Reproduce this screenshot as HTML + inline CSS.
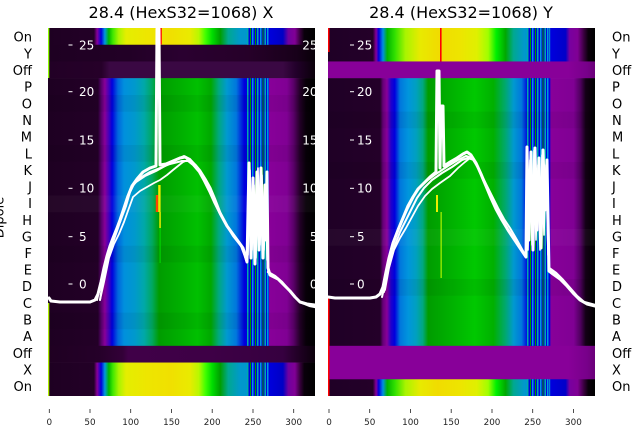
<!DOCTYPE html>
<html><head><meta charset="utf-8"><style>
html,body{margin:0;padding:0;background:#fff;}
svg{display:block;}
text{font-family:"DejaVu Sans","Liberation Sans",sans-serif;}
</style></head><body>
<svg width="640" height="440" viewBox="0 0 640 440" xmlns="http://www.w3.org/2000/svg">
<defs>
<linearGradient id="ML" gradientUnits="userSpaceOnUse" x1="0" y1="0" x2="267" y2="0">
<stop offset="0" stop-color="#1e0022"/><stop offset=".187" stop-color="#230027"/><stop offset=".199" stop-color="#55006a"/><stop offset=".213" stop-color="#880099"/><stop offset=".228" stop-color="#4400bb"/><stop offset=".240" stop-color="#0000dd"/><stop offset=".262" stop-color="#0066dd"/><stop offset=".285" stop-color="#0090dd"/><stop offset=".326" stop-color="#0099cc"/><stop offset=".360" stop-color="#00a8a8"/><stop offset=".390" stop-color="#00a860"/><stop offset=".416" stop-color="#009c00"/><stop offset=".50" stop-color="#00b000"/><stop offset=".56" stop-color="#00c000"/><stop offset=".61" stop-color="#00a800"/><stop offset=".64" stop-color="#00a880"/><stop offset=".67" stop-color="#0099d0"/><stop offset=".705" stop-color="#0077dd"/><stop offset=".735" stop-color="#0000dd"/><stop offset=".824" stop-color="#0000dd"/><stop offset=".828" stop-color="#880099"/><stop offset=".895" stop-color="#800094"/><stop offset=".92" stop-color="#5a0068"/><stop offset=".944" stop-color="#220026"/><stop offset=".966" stop-color="#080009"/><stop offset="1" stop-color="#000"/>
</linearGradient>
<linearGradient id="MR" gradientUnits="userSpaceOnUse" x1="0" y1="0" x2="267" y2="0">
<stop offset="0" stop-color="#1f0026"/><stop offset=".195" stop-color="#240029"/><stop offset=".206" stop-color="#660077"/><stop offset=".221" stop-color="#880099"/><stop offset=".236" stop-color="#2000cc"/><stop offset=".25" stop-color="#0000dd"/><stop offset=".27" stop-color="#0077dd"/><stop offset=".30" stop-color="#0095dd"/><stop offset=".33" stop-color="#00a0c0"/><stop offset=".355" stop-color="#00a880"/><stop offset=".375" stop-color="#009c00"/><stop offset=".49" stop-color="#00b800"/><stop offset=".55" stop-color="#00c800"/><stop offset=".62" stop-color="#00b000"/><stop offset=".665" stop-color="#00a870"/><stop offset=".695" stop-color="#0099d0"/><stop offset=".725" stop-color="#0077dd"/><stop offset=".748" stop-color="#0000dd"/><stop offset=".83" stop-color="#0000dd"/><stop offset=".835" stop-color="#880099"/><stop offset=".92" stop-color="#800094"/><stop offset=".945" stop-color="#500060"/><stop offset=".965" stop-color="#140016"/><stop offset="1" stop-color="#000"/>
</linearGradient>
<linearGradient id="OL" gradientUnits="userSpaceOnUse" x1="0" y1="0" x2="267" y2="0">
<stop offset="0" stop-color="#1e0022"/><stop offset=".172" stop-color="#230027"/><stop offset=".184" stop-color="#880099"/><stop offset=".199" stop-color="#0000dd"/><stop offset=".213" stop-color="#0099dd"/><stop offset=".228" stop-color="#00b800"/><stop offset=".243" stop-color="#40e800"/><stop offset=".265" stop-color="#a8f400"/><stop offset=".292" stop-color="#e4ee00"/><stop offset=".37" stop-color="#eee600"/><stop offset=".46" stop-color="#f0e000"/><stop offset=".53" stop-color="#eaea00"/><stop offset=".565" stop-color="#b8f800"/><stop offset=".59" stop-color="#40ff00"/><stop offset=".615" stop-color="#00dd00"/><stop offset=".645" stop-color="#009e00"/><stop offset=".675" stop-color="#00a890"/><stop offset=".72" stop-color="#0099cc"/><stop offset=".824" stop-color="#0090d0"/><stop offset=".828" stop-color="#0000dd"/><stop offset=".88" stop-color="#0000c4"/><stop offset=".9" stop-color="#7000a0"/><stop offset=".925" stop-color="#800094"/><stop offset=".945" stop-color="#340038"/><stop offset=".96" stop-color="#0a000b"/><stop offset="1" stop-color="#000"/>
</linearGradient>
<linearGradient id="OR" gradientUnits="userSpaceOnUse" x1="0" y1="0" x2="267" y2="0">
<stop offset="0" stop-color="#1f0026"/><stop offset=".168" stop-color="#240029"/><stop offset=".18" stop-color="#880099"/><stop offset=".19" stop-color="#0000dd"/><stop offset=".206" stop-color="#0090e0"/><stop offset=".222" stop-color="#00b400"/><stop offset=".25" stop-color="#30e000"/><stop offset=".29" stop-color="#a8f400"/><stop offset=".345" stop-color="#e8ea00"/><stop offset=".41" stop-color="#f0dc00"/><stop offset=".49" stop-color="#eee400"/><stop offset=".558" stop-color="#dff000"/><stop offset=".6" stop-color="#a0ff00"/><stop offset=".63" stop-color="#00f000"/><stop offset=".665" stop-color="#00a800"/><stop offset=".695" stop-color="#00a890"/><stop offset=".735" stop-color="#0099cc"/><stop offset=".83" stop-color="#0090d0"/><stop offset=".834" stop-color="#0000dd"/><stop offset=".89" stop-color="#0000c8"/><stop offset=".905" stop-color="#7800a0"/><stop offset=".935" stop-color="#800094"/><stop offset=".96" stop-color="#340038"/><stop offset=".975" stop-color="#0a000b"/><stop offset="1" stop-color="#000"/>
</linearGradient>
<linearGradient id="DY" gradientUnits="userSpaceOnUse" x1="0" y1="0" x2="267" y2="0">
<stop offset="0" stop-color="#1e0022"/><stop offset=".3" stop-color="#220026"/><stop offset=".5" stop-color="#2a0030"/><stop offset=".75" stop-color="#260029"/><stop offset=".93" stop-color="#18001a"/><stop offset="1" stop-color="#080008"/>
</linearGradient>
<linearGradient id="DO1" gradientUnits="userSpaceOnUse" x1="0" y1="0" x2="267" y2="0">
<stop offset="0" stop-color="#220026"/><stop offset=".2" stop-color="#260029"/><stop offset=".23" stop-color="#3a0843"/><stop offset=".88" stop-color="#3a0843"/><stop offset=".93" stop-color="#22002a"/><stop offset="1" stop-color="#0a000a"/>
</linearGradient>
<linearGradient id="DO2" gradientUnits="userSpaceOnUse" x1="0" y1="0" x2="267" y2="0">
<stop offset="0" stop-color="#1f0022"/><stop offset=".19" stop-color="#250029"/><stop offset=".28" stop-color="#330038"/><stop offset=".3" stop-color="#400048"/><stop offset=".6" stop-color="#3e0046"/><stop offset=".88" stop-color="#360040"/><stop offset=".94" stop-color="#200024"/><stop offset="1" stop-color="#0a000a"/>
</linearGradient>
<linearGradient id="PR" gradientUnits="userSpaceOnUse" x1="0" y1="0" x2="267" y2="0">
<stop offset="0" stop-color="#880099"/><stop offset=".9" stop-color="#880099"/><stop offset=".97" stop-color="#78008a"/><stop offset="1" stop-color="#6a0078"/>
</linearGradient>
<pattern id="ST" patternUnits="userSpaceOnUse" x="199" y="0" width="22" height="440">
<rect x="0" y="0" width="22" height="440" fill="#0000dd"/>
<rect x="0" y="0" width="1.5" height="440" fill="#00aaaa"/>
<rect x="3" y="0" width="1" height="440" fill="#009900"/>
<rect x="5" y="0" width="1.5" height="440" fill="#0099dd"/>
<rect x="8" y="0" width="1" height="440" fill="#009900"/>
<rect x="10" y="0" width="1.5" height="440" fill="#00aaaa"/>
<rect x="13" y="0" width="1.5" height="440" fill="#0099dd"/>
<rect x="15.5" y="0" width="1" height="440" fill="#009900"/>
<rect x="17.5" y="0" width="1.5" height="440" fill="#00aaaa"/>
<rect x="20" y="0" width="1.5" height="440" fill="#0099dd"/>
</pattern>
<clipPath id="cL"><rect x="48" y="28" width="267" height="368"/></clipPath>
<clipPath id="cR"><rect x="328" y="28" width="267" height="368"/></clipPath>
</defs>
<rect x="0" y="0" width="640" height="440" fill="#fff"/>

<text x="181" y="18" font-size="16" text-anchor="middle" fill="#000">28.4 (HexS32=1068) X</text>
<text x="461" y="18" font-size="16" text-anchor="middle" fill="#000">28.4 (HexS32=1068) Y</text>

<!-- LEFT PANEL -->
<g clip-path="url(#cL)">
<g transform="translate(48,0)">
<rect x="0" y="28" width="267" height="17" fill="url(#OL)"/>
<rect x="0" y="44.73" width="267" height="17" fill="url(#DY)"/>
<rect x="0" y="61.45" width="267" height="17" fill="url(#DO1)"/>
<rect x="0" y="78.18" width="267" height="268" fill="url(#ML)"/>
<rect x="0" y="345.82" width="267" height="17" fill="url(#DO2)"/>
<rect x="0" y="362.55" width="267" height="34" fill="url(#OL)"/>
<rect x="199" y="28" width="22" height="16.73" fill="url(#ST)"/>
<rect x="199" y="78.18" width="22" height="267.64" fill="url(#ST)"/>
<rect x="199" y="362.55" width="22" height="33.45" fill="url(#ST)"/>
<rect x="0" y="95" width="267" height="16.7" fill="#000" opacity="0.05"/>
<rect x="0" y="145" width="267" height="16.7" fill="#000" opacity="0.05"/>
<rect x="0" y="195.5" width="267" height="16.7" fill="#fff" opacity="0.03"/>
<rect x="0" y="245.7" width="267" height="16.7" fill="#000" opacity="0.05"/>
<rect x="0" y="312.6" width="267" height="16.7" fill="#000" opacity="0.05"/>
</g>
<rect x="48" y="28" width="1.3" height="50" fill="#90ff00"/>
<rect x="48" y="303" width="1.3" height="93" fill="#b0f000"/>
<rect x="160.3" y="28" width="1.5" height="16.5" fill="#ff0000"/>
<rect x="155.8" y="195" width="2.4" height="17" fill="#ff4400"/>
<rect x="158.2" y="185" width="2.4" height="27" fill="#eeee00"/>
<rect x="159.3" y="212" width="1.5" height="16" fill="#eeee00"/>
<rect x="159.6" y="228" width="1" height="35" fill="#00dd00"/>
<g fill="#fff" font-size="12">
<text x="79" y="49.5">25</text><text x="79" y="96">20</text><text x="79" y="144.5">15</text><text x="79" y="192.5">10</text><text x="79" y="241">5</text><text x="79" y="288.5">0</text>
<text x="317.5" y="49.5" text-anchor="end">25</text><text x="317.5" y="96" text-anchor="end">20</text><text x="317.5" y="144.5" text-anchor="end">15</text><text x="317.5" y="192.5" text-anchor="end">10</text><text x="317.5" y="241" text-anchor="end">5</text><text x="317.5" y="288.5" text-anchor="end">0</text>
</g>
<g stroke="#fff" stroke-width="1">
<line x1="68.5" y1="45" x2="72.5" y2="45"/><line x1="68.5" y1="91.7" x2="72.5" y2="91.7"/><line x1="68.5" y1="140" x2="72.5" y2="140"/><line x1="68.5" y1="188.3" x2="72.5" y2="188.3"/><line x1="68.5" y1="236.7" x2="72.5" y2="236.7"/><line x1="68.5" y1="284" x2="72.5" y2="284"/>
</g>
<g fill="none" stroke="#fff" stroke-linejoin="round" stroke-linecap="round">
<polyline stroke-width="3" points="49,298 51,301 60,302 90,302 95,300 98,294 101,282 104,268 107,256 110,246 113,238 117,228 120,220 124,208 128,196 132,186 137,179 143,172 150,168 156,166 157,29 159,29 160,165 166,164 173,161 180,158 185,157 190,160 195,165 200,171 205,179 210,188 215,200 220,213 227,226 235,237 243,248 247,262 249,163 251,258 253,178 255,264 257,172 259,250 261,168 263,258 265,185 266,240 267,172 268,268 270,275 278,279 285,286 290,291 295,297 300,302 307,304 315,305"/>
<polyline stroke-width="2" points="100,300 103,280 107,262 112,245 118,228 123,213 127,198 131,188 136,182 145,176 156,171 165,166 175,160 184,156 190,159 196,166 201,174 206,183 211,193 216,204 222,216 229,229 237,240 244,250 247,262"/>
<polyline stroke-width="2" points="97,300 100,287 104,270 108,252 114,236 120,222 126,206 130,192 134,184 140,178 150,172 160,168 170,164 182,161 188,161 193,165 199,172 204,181 209,191 214,202 219,212 225,223 233,236 241,246 247,262"/>
<polyline stroke-width="1.8" points="100,300 104,282 109,258 114,244 119,234 124,222 129,208 133,197 140,191 147,187 154,183 160,180 167,175 173,170 178,166 183,162 188,160"/>
<polyline stroke-width="2.4" points="268,272 275,276 282,282 288,289 294,296 300,302 310,306 315,307"/>
<polyline stroke-width="1.6" points="248,255 250,170 252,250 254,185 256,258 258,168 260,245 262,175 264,250 266,190 267,260"/>
</g>
</g>

<!-- RIGHT PANEL -->
<g clip-path="url(#cR)">
<g transform="translate(328,0)">
<rect x="0" y="28" width="267" height="34" fill="url(#OR)"/>
<rect x="0" y="61.45" width="267" height="17" fill="url(#PR)"/>
<rect x="0" y="78.18" width="267" height="268" fill="url(#MR)"/>
<rect x="0" y="345.82" width="267" height="33.7" fill="url(#PR)"/>
<rect x="0" y="379.27" width="267" height="17" fill="url(#OR)"/>
<rect x="199" y="28" width="22" height="33.45" fill="url(#ST)"/>
<rect x="199" y="78.18" width="22" height="267.64" fill="url(#ST)"/>
<rect x="199" y="379.27" width="22" height="16.73" fill="url(#ST)"/>
<rect x="0" y="111.6" width="267" height="16.7" fill="#000" opacity="0.05"/>
<rect x="0" y="162" width="267" height="16.7" fill="#000" opacity="0.05"/>
<rect x="0" y="229" width="267" height="16.7" fill="#fff" opacity="0.03"/>
<rect x="0" y="279" width="267" height="16.7" fill="#000" opacity="0.05"/>
</g>
<rect x="328" y="28" width="1.5" height="24" fill="#ff0000"/>
<rect x="328" y="296" width="1.5" height="100" fill="#ff0000"/>
<rect x="440" y="28" width="1.6" height="33.5" fill="#ff0000"/>
<rect x="436" y="195" width="2" height="17" fill="#eeee00"/>
<rect x="440.5" y="212" width="1.3" height="66" fill="#a0ee00"/>
<g fill="#fff" font-size="12">
<text x="357" y="49.5">25</text><text x="357" y="96">20</text><text x="357" y="144.5">15</text><text x="357" y="192.5">10</text><text x="357" y="241">5</text><text x="357" y="288.5">0</text>
</g>
<g stroke="#fff" stroke-width="1">
<line x1="350" y1="45" x2="354" y2="45"/><line x1="350" y1="91.7" x2="354" y2="91.7"/><line x1="350" y1="140" x2="354" y2="140"/><line x1="350" y1="188.3" x2="354" y2="188.3"/><line x1="350" y1="236.7" x2="354" y2="236.7"/><line x1="350" y1="284" x2="354" y2="284"/>
</g>
<g fill="none" stroke="#fff" stroke-linejoin="round" stroke-linecap="round">
<polyline stroke-width="3" points="328,297 335,298 370,298 376,297 380,294 383,287 386,272 389,258 393,243 398,230 403,218 408,206 413,197 418,189 424,183 430,177 436,172 437,71 439,71 440,168 441,106 443,106 444,166 450,162 457,158 463,154 467,152 471,155 476,163 481,174 486,186 491,198 496,209 502,220 508,230 514,239 520,248 526,257 527,147 529,240 531,152 533,250 535,148 537,230 539,158 541,248 543,150 545,210 547,160 549,271 553,274 560,279 567,286 574,294 580,300 587,304 595,306"/>
<polyline stroke-width="2" points="384,292 388,265 392,248 397,233 402,221 408,208 414,196 420,187 428,180 436,174 448,166 458,160 466,156 472,158 478,168 483,180 488,191 494,203 500,215 506,226 512,236 518,245 524,254"/>
<polyline stroke-width="2" points="382,297 386,280 390,262 395,245 400,232 405,222 411,210 417,198 424,188 432,180 442,173 452,167 462,160 468,158 474,160 480,172 486,184 492,196 498,208 504,219 510,228 517,240 523,251 526,257"/>
<polyline stroke-width="1.8" points="385,290 389,268 394,250 400,238 406,228 412,217 418,206 425,196 432,189 440,183 450,176 458,168 465,162 470,158"/>
<polyline stroke-width="1.6" points="528,250 530,160 532,245 534,150 536,240 538,165 540,250 542,155 544,235 546,165 548,255"/>
<polyline stroke-width="2.4" points="549,268 556,273 563,280 570,288 577,296 584,302 595,305"/>
</g>
</g>

<g font-size="13" fill="#000" text-anchor="end">
<text x="32" y="41.5">On</text><text x="32" y="58.5">Y</text><text x="32" y="75">Off</text><text x="32" y="91.5">P</text><text x="32" y="108.5">O</text><text x="32" y="125">N</text><text x="32" y="141.5">M</text><text x="32" y="158.5">L</text><text x="32" y="175">K</text><text x="32" y="191.5">J</text><text x="32" y="208">I</text><text x="32" y="225">H</text><text x="32" y="241.5">G</text><text x="32" y="258">F</text><text x="32" y="274.5">E</text><text x="32" y="291">D</text><text x="32" y="308">C</text><text x="32" y="324.5">B</text><text x="32" y="341">A</text><text x="32" y="358">Off</text><text x="32" y="374.5">X</text><text x="32" y="391">On</text>
</g>
<g font-size="13" fill="#000" text-anchor="start">
<text x="612" y="41.5">On</text><text x="612" y="58.5">Y</text><text x="612" y="75">Off</text><text x="612" y="91.5">P</text><text x="612" y="108.5">O</text><text x="612" y="125">N</text><text x="612" y="141.5">M</text><text x="612" y="158.5">L</text><text x="612" y="175">K</text><text x="612" y="191.5">J</text><text x="612" y="208">I</text><text x="612" y="225">H</text><text x="612" y="241.5">G</text><text x="612" y="258">F</text><text x="612" y="274.5">E</text><text x="612" y="291">D</text><text x="612" y="308">C</text><text x="612" y="324.5">B</text><text x="612" y="341">A</text><text x="612" y="358">Off</text><text x="612" y="374.5">X</text><text x="612" y="391">On</text>
</g>
<text transform="translate(3.5,217.5) rotate(-90)" font-size="13" text-anchor="middle" fill="#000">Dipole</text>

<g stroke="#222" stroke-width="0.8">
<line x1="49.3" y1="409" x2="49.3" y2="413"/><line x1="90" y1="409" x2="90" y2="413"/><line x1="130.7" y1="409" x2="130.7" y2="413"/><line x1="171.5" y1="409" x2="171.5" y2="413"/><line x1="212.2" y1="409" x2="212.2" y2="413"/><line x1="253" y1="409" x2="253" y2="413"/><line x1="293.7" y1="409" x2="293.7" y2="413"/>
<line x1="329" y1="409" x2="329" y2="413"/><line x1="369.7" y1="409" x2="369.7" y2="413"/><line x1="410.5" y1="409" x2="410.5" y2="413"/><line x1="451.2" y1="409" x2="451.2" y2="413"/><line x1="492" y1="409" x2="492" y2="413"/><line x1="532.7" y1="409" x2="532.7" y2="413"/><line x1="573.4" y1="409" x2="573.4" y2="413"/>
</g>
<g font-size="8.8" fill="#222" text-anchor="middle">
<text x="49.3" y="425">0</text><text x="90" y="425">50</text><text x="130.7" y="425">100</text><text x="171.5" y="425">150</text><text x="212.2" y="425">200</text><text x="253" y="425">250</text><text x="293.7" y="425">300</text>
<text x="329" y="425">0</text><text x="369.7" y="425">50</text><text x="410.5" y="425">100</text><text x="451.2" y="425">150</text><text x="492" y="425">200</text><text x="532.7" y="425">250</text><text x="573.4" y="425">300</text>
</g>
</svg>
</body></html>
